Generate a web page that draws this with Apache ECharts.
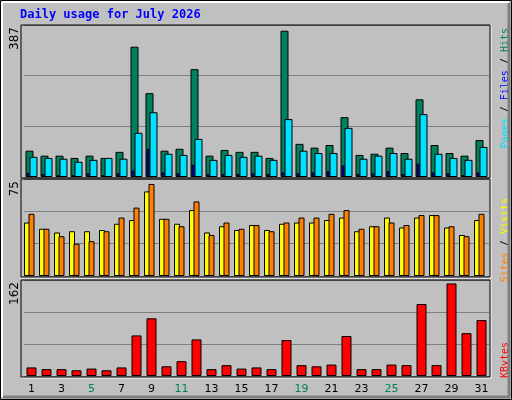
<!DOCTYPE html>
<html><head><meta charset="utf-8">
<script src="https://cdn.jsdelivr.net/npm/echarts@6/dist/echarts.min.js"></script>
<style>html,body{margin:0;padding:0;background:#c0c0c0}#c{width:512px;height:400px}</style>
</head><body><div id="c"></div>
<script>
const days = Array.from({length:31},(_,i)=>String(i+1));
const weekend = ['4','5','11','12','18','19','25','26'];
const hits  = [69,56,56,50,56,50,66,342,220,69,74,283,56,71,66,66,50,384,87,77,84,157,58,61,77,63,204,84,63,56,97];
const files = [53,50,48,40,45,50,48,116,170,61,58,100,45,58,53,56,45,152,69,63,63,129,48,56,63,48,165,61,50,45,79];
const pages = [11,8,5,5,10,5,10,17,74,12,10,32,8,8,8,10,8,12,10,12,15,30,8,10,15,8,35,12,10,5,12];
const sites  = [43,38,35,36,36,37,42,45,68,46,42,53,35,40,37,41,37,42,43,43,45,47,36,40,47,39,47,49,39,33,45];
const visits = [50,38,32,26,28,36,47,55,74,46,40,60,33,43,38,41,36,43,47,47,50,53,38,40,43,41,49,49,40,32,50];
const kbytes = [15,12,12,10,13,10,15,71,101,17,26,64,12,19,13,15,12,63,19,17,20,70,12,12,20,19,126,19,162,75,98];
const maxLabels = ['387','75','162'];

const panels = [{top:25,h:152},{top:179,h:97},{top:280,h:96}];
const chart = echarts.init(document.getElementById('c'));
const grids = panels.map(p=>({left:24,right:23,top:p.top,height:p.h}));
const xa = (g,show)=>({type:'category',gridIndex:g,data:days,show:show,
  axisLine:{show:false},axisTick:{show:false},
  axisLabel:{show:show,margin:8,fontFamily:'DejaVu Sans',fontSize:11,
    color:(v)=>weekend.includes(v)?'#00805c':'#000'}});
const ya = (g,max,iv)=>({type:'value',gridIndex:g,min:0,max:max,interval:iv,
  axisLabel:{show:false},axisLine:{show:false},axisTick:{show:false},
  splitLine:{lineStyle:{color:'#808080',width:1}}});
const bs = (c)=>({color:c,borderColor:'#000',borderWidth:1});
const mono = 'DejaVu Sans Mono';
const frame = [];
panels.forEach(p=>{
  frame.push({type:'line',shape:{x1:491,y1:p.top,x2:491,y2:p.top+p.h+2},style:{stroke:'#fff',lineWidth:1},z:-1});
  frame.push({type:'line',shape:{x1:21,y1:p.top+p.h+2,x2:491,y2:p.top+p.h+2},style:{stroke:'#fff',lineWidth:1},z:-1});
  frame.push({type:'rect',shape:{x:21,y:p.top,width:469,height:p.h+1},style:{fill:'none',stroke:'#000',lineWidth:1},z:100});
});
chart.setOption({
  animation:false,
  backgroundColor:'#c0c0c0',
  grid:grids,
  xAxis:[xa(0,false),xa(0,false),xa(1,false),xa(2,true)],
  yAxis:[ya(0,399,133),ya(0,399,133),ya(1,78,26),ya(2,168,56)],
  series:[
    {type:'bar',xAxisIndex:0,yAxisIndex:0,data:hits,barWidth:8,barGap:'-50%',itemStyle:bs('#00805c')},
    {type:'bar',xAxisIndex:0,yAxisIndex:0,data:files,barWidth:8,barGap:'-50%',itemStyle:bs('#00e0ff')},
    {type:'bar',xAxisIndex:1,yAxisIndex:1,data:pages,barWidth:3,barGap:'133%',itemStyle:bs('#0000ff'),z:5},
    {type:'bar',xAxisIndex:1,yAxisIndex:1,data:pages.map(()=>0),barWidth:3,barGap:'133%',itemStyle:{opacity:0}},
    {type:'bar',xAxisIndex:2,yAxisIndex:2,data:sites,barWidth:6,barGap:'-25%',itemStyle:bs('#ffff00')},
    {type:'bar',xAxisIndex:2,yAxisIndex:2,data:visits,barWidth:6,barGap:'-25%',itemStyle:bs('#ff8000')},
    {type:'bar',xAxisIndex:2,yAxisIndex:2,data:visits.map(()=>0),barWidth:6,barGap:'-25%',itemStyle:{opacity:0}},
    {type:'bar',xAxisIndex:3,yAxisIndex:3,data:kbytes,barWidth:10,itemStyle:bs('#ff0000')}
  ],
  graphic:[
    {type:'rect',shape:{x:0.5,y:0.5,width:511,height:399},style:{fill:'none',stroke:'#000',lineWidth:1},z:100},
    {type:'line',shape:{x1:2,y1:2,x2:509,y2:2},style:{stroke:'#fff',lineWidth:2},z:99},
    {type:'line',shape:{x1:2,y1:2,x2:2,y2:397},style:{stroke:'#fff',lineWidth:2},z:99},
    {type:'line',shape:{x1:509,y1:3,x2:509,y2:397},style:{stroke:'#808080',lineWidth:3},z:99},
    {type:'line',shape:{x1:3,y1:397,x2:510,y2:397},style:{stroke:'#808080',lineWidth:3},z:99},
    ...frame,
    {type:'text',x:20,y:15,style:{text:'Daily usage for July 2026',fill:'#0000ff',font:'bold 12px "'+mono+'"',verticalAlign:'middle'}},
    {type:'text',x:15,y:27,rotation:Math.PI/2,style:{text:maxLabels[0],fill:'#000',font:'12px "DejaVu Sans"',align:'right',verticalAlign:'middle'}},
    {type:'text',x:15,y:181,rotation:Math.PI/2,style:{text:maxLabels[1],fill:'#000',font:'12px "DejaVu Sans"',align:'right',verticalAlign:'middle'}},
    {type:'text',x:15,y:282,rotation:Math.PI/2,style:{text:maxLabels[2],fill:'#000',font:'12px "DejaVu Sans"',align:'right',verticalAlign:'middle'}},
    {type:'text',x:505,y:28,rotation:Math.PI/2,style:{text:'{p|Pages}{s| / }{f|Files}{s| / }{h|Hits}',align:'right',verticalAlign:'middle',
      rich:{p:{fill:'#00e0ff',font:'10px "'+mono+'"'},s:{fill:'#000',font:'10px "'+mono+'"'},f:{fill:'#0000ff',font:'10px "'+mono+'"'},h:{fill:'#00805c',font:'10px "'+mono+'"'}}}},
    {type:'text',x:505,y:198,rotation:Math.PI/2,style:{text:'{a|Sites}{s| / }{b|Visits}',align:'right',verticalAlign:'middle',
      rich:{a:{fill:'#ff8000',font:'10px "'+mono+'"'},s:{fill:'#000',font:'10px "'+mono+'"'},b:{fill:'#ffff00',font:'10px "'+mono+'"'}}}},
    {type:'text',x:505,y:342,rotation:Math.PI/2,style:{text:'KBytes',fill:'#ff0000',font:'10px "'+mono+'"',align:'right',verticalAlign:'middle'}}
  ]
});
</script></body></html>
